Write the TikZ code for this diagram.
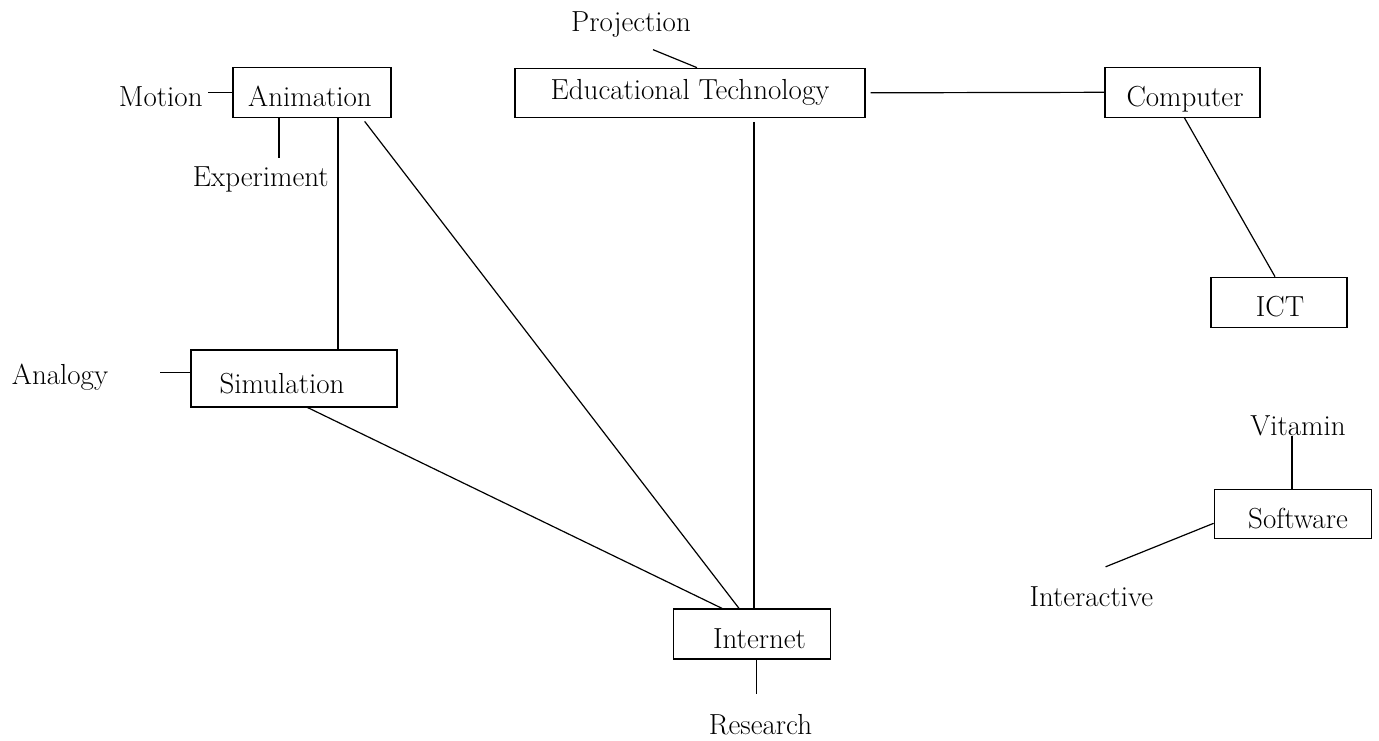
\documentclass[tikz,border=0pt]{standalone}
\usetikzlibrary{calc}
\begin{document}
\begin{tikzpicture}[x=1pt,y=-1pt,
  line width=1.2pt,
  box/.style={draw,line width=1.3pt,inner sep=0pt,minimum width=#1},
  txt/.style={anchor=base,inner sep=0pt,font=\fontsize{29}{34}\selectfont}]
\useasboundingbox (0,0) rectangle (1379,740);

% concept boxes
\node[box=158,minimum height=49.5] (anim) at (312,92.5) {};
\node[box=350,minimum height=49]   (edu)  at (690,92.8) {};
\node[box=155,minimum height=50]   (comp) at (1182.5,92.3) {};
\node[box=136,minimum height=50]   (ict)  at (1279,302.3) {};
\node[box=206,minimum height=57]   (sim)  at (294,378.6) {};
\node[box=157.5,minimum height=50] (inet) at (752,634) {};
\node[box=157.5,minimum height=49] (soft) at (1293,513.8) {};

% box captions
\node[txt] (anim-t) at (310,106)    {Animation};
\node[txt] (edu-t)  at (690,99.5)   {Educational Technology};
\node[txt] (comp-t) at (1185,106.5) {Computer};
\node[txt] (ict-t)  at (1280,316.7) {ICT};
\node[txt] (sim-t)  at (282,393)    {Simulation};
\node[txt] (inet-t) at (759.5,648.3){Internet};
\node[txt] (soft-t) at (1298,528)   {Software};

% free-standing terms
\node[txt] (motion)      at (160.8,106)   {Motion};
\node[txt] (experiment)  at (260.8,186.7) {Experiment};
\node[txt] (projection)  at (631,31.7)    {Projection};
\node[txt] (analogy)     at (60,384)      {Analogy};
\node[txt] (vitamin)     at (1298,435)    {Vitamin};
\node[txt] (interactive) at (1091.3,606.7){Interactive};
\node[txt] (research)    at (760.5,734)   {Research};

% helper points for the short stubs
\coordinate (mot-end)  at (208,106);
\coordinate (exp-top)  at (279,157.7);
\coordinate (as-x)     at ($(anim.south)+(26,0)$);
\coordinate (ana-end)  at (160,384);
\coordinate (res-top)  at (756.7,694.3);
\coordinate (vit-foot) at ($(vitamin.base)+(-6,1)$);

% connectors
\draw (anim.west) -- (anim.west -| mot-end);
\draw (anim.south -| exp-top) -- (exp-top);
\draw (as-x) -- (as-x |- sim.north);
\draw ($(anim.south east)+(-27,3.5)$) -- ($(inet.north)+(-13,0)$);
\draw ($(edu.south)+(64,4)$) -- ($(inet.north)+(2,0)$);
\draw ($(sim.south)+(12,-1)$) -- ($(inet.north)+(-30,0)$);
\draw ($(sim.west)+(0,-6)$) coordinate (ana-in) -- (ana-in -| ana-end);
\draw ($(edu.north)+(-37,-18)$) -- ($(edu.north)+(7,0)$);
\draw ($(edu.east)+(5,0)$) -- (comp.west);
\draw ($(comp.south)+(2,0)$) -- ($(ict.north)+(-4,0)$);
\draw (inet.south -| res-top) -- (res-top);
\draw (vit-foot) -- (vit-foot |- soft.north);
\draw ($(soft.west)+(-108,53)$) -- ($(soft.west)+(0,9.5)$);
\end{tikzpicture}
\end{document}
